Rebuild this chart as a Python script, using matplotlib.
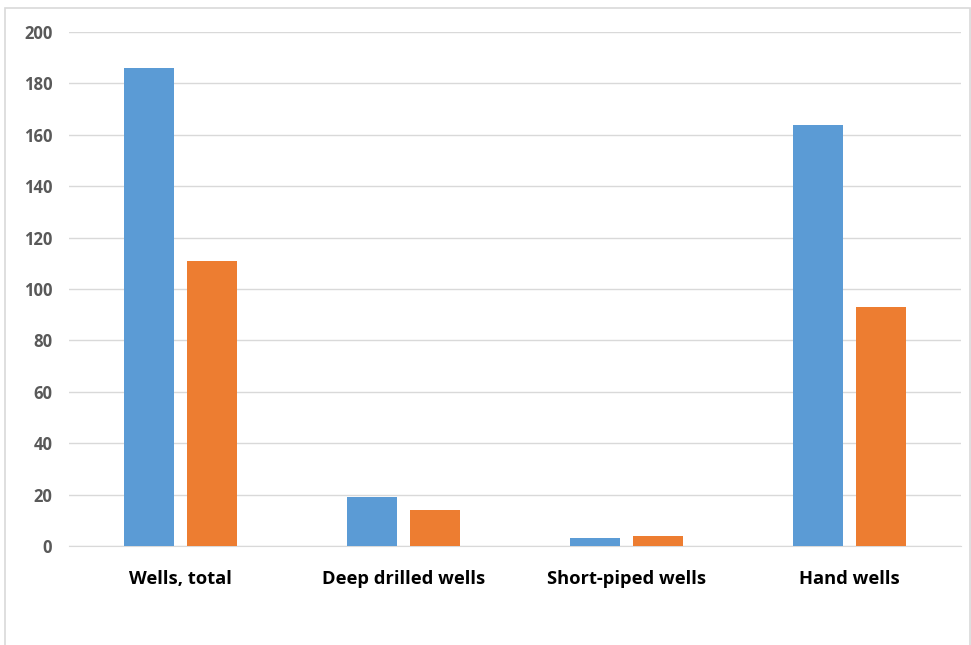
import numpy as np
import matplotlib.pyplot as plt
from matplotlib.patches import Rectangle

categories = ["Wells, total", "Deep drilled wells", "Short-piped wells", "Hand wells"]
series_a = [186, 19, 3, 164]
series_b = [111, 14, 4, 93]
y_ticks = [0, 20, 40, 60, 80, 100, 120, 140, 160, 180, 200]

fig = plt.figure(figsize=(9.71, 6.45), dpi=100)
ax = fig.add_axes([69 / 971, 1 - 546 / 645, (961 - 69) / 971, (546 - 32) / 645])

# outer chart frame
fig.patches.append(Rectangle((5 / 971, -0.01), 965 / 971, 1 - 8 / 645 + 0.01,
                             transform=fig.transFigure, fill=False,
                             edgecolor="#d9d9d9", linewidth=1.2))

x = np.arange(len(categories))
w = 0.224
off = 0.141
ax.bar(x - off, series_a, width=w, color="#5b9bd5", zorder=3)
ax.bar(x + off, series_b, width=w, color="#ed7d31", zorder=3)

ax.set_xlim(-0.5, 3.5)
ax.set_ylim(0, 200)
ax.set_yticks(y_ticks)
ax.yaxis.grid(True, color="#d9d9d9", linewidth=1)
ax.set_axisbelow(True)
for s in ax.spines.values():
    s.set_visible(False)
ax.spines["bottom"].set_visible(True)
ax.spines["bottom"].set_color("#d9d9d9")

ax.tick_params(axis="y", length=0, pad=12, labelsize=12, labelcolor="#595959")
ax.tick_params(axis="x", length=0, pad=17, labelsize=13.2)
ax.set_xticks(x)
ax.set_xticklabels(categories, fontweight="bold", family="Open Sans")
for lab in ax.get_yticklabels():
    lab.set_fontweight("bold")
    lab.set_family("Open Sans")

fig.savefig("out.png", dpi=100)
